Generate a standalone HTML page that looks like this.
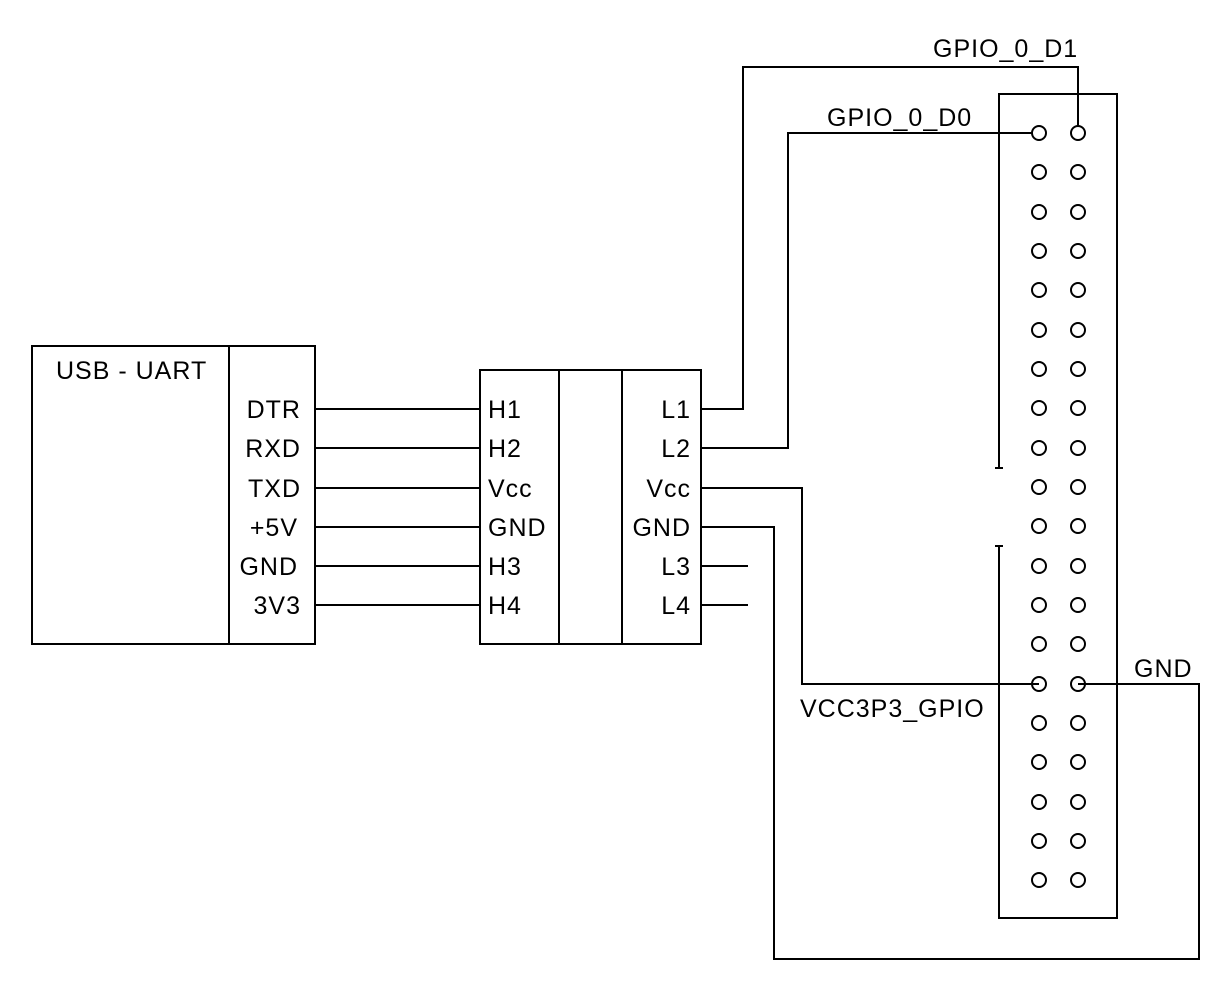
<!DOCTYPE html>
<html><head><meta charset="utf-8"><style>
html,body{margin:0;padding:0;background:#fff}
svg{display:block}
text{font-family:"Liberation Sans",Arial,sans-serif;font-size:25px;letter-spacing:1px;fill:#000}
</style></head><body>
<svg width="1232" height="992" viewBox="0 0 1232 992" xmlns="http://www.w3.org/2000/svg">
<g fill="none" stroke="#000" stroke-width="2">
<rect x="32" y="346" width="283" height="298"/>
<line x1="229" y1="346" x2="229" y2="644"/>
<rect x="480" y="370" width="221" height="274"/>
<line x1="559" y1="370" x2="559" y2="644"/>
<line x1="622" y1="370" x2="622" y2="644"/>
<line x1="315" y1="409" x2="480" y2="409"/>
<line x1="315" y1="448" x2="480" y2="448"/>
<line x1="315" y1="488" x2="480" y2="488"/>
<line x1="315" y1="527" x2="480" y2="527"/>
<line x1="315" y1="566" x2="480" y2="566"/>
<line x1="315" y1="605" x2="480" y2="605"/>
<polyline points="701,409 743,409 743,67 1078,67 1078,126"/>
<polyline points="701,448 788,448 788,133 1032,133"/>
<polyline points="701,488 802,488 802,684 1039,684"/>
<polyline points="701,527 774,527 774,959 1199,959 1199,684 1078,684"/>
<line x1="701" y1="566" x2="748" y2="566"/>
<line x1="701" y1="605" x2="748" y2="605"/>
<polyline points="999,468 999,94 1117,94 1117,918 999,918 999,546"/>
<line x1="995" y1="468" x2="1003" y2="468"/>
<line x1="995" y1="546" x2="1003" y2="546"/>
</g>
<g fill="none" stroke="#000" stroke-width="2">
<circle cx="1039" cy="133" r="7"/><circle cx="1078" cy="133" r="7"/>
<circle cx="1039" cy="172" r="7"/><circle cx="1078" cy="172" r="7"/>
<circle cx="1039" cy="212" r="7"/><circle cx="1078" cy="212" r="7"/>
<circle cx="1039" cy="251" r="7"/><circle cx="1078" cy="251" r="7"/>
<circle cx="1039" cy="290" r="7"/><circle cx="1078" cy="290" r="7"/>
<circle cx="1039" cy="330" r="7"/><circle cx="1078" cy="330" r="7"/>
<circle cx="1039" cy="369" r="7"/><circle cx="1078" cy="369" r="7"/>
<circle cx="1039" cy="408" r="7"/><circle cx="1078" cy="408" r="7"/>
<circle cx="1039" cy="448" r="7"/><circle cx="1078" cy="448" r="7"/>
<circle cx="1039" cy="487" r="7"/><circle cx="1078" cy="487" r="7"/>
<circle cx="1039" cy="526" r="7"/><circle cx="1078" cy="526" r="7"/>
<circle cx="1039" cy="566" r="7"/><circle cx="1078" cy="566" r="7"/>
<circle cx="1039" cy="605" r="7"/><circle cx="1078" cy="605" r="7"/>
<circle cx="1039" cy="644" r="7"/><circle cx="1078" cy="644" r="7"/>
<circle cx="1039" cy="684" r="7"/><circle cx="1078" cy="684" r="7"/>
<circle cx="1039" cy="723" r="7"/><circle cx="1078" cy="723" r="7"/>
<circle cx="1039" cy="762" r="7"/><circle cx="1078" cy="762" r="7"/>
<circle cx="1039" cy="802" r="7"/><circle cx="1078" cy="802" r="7"/>
<circle cx="1039" cy="841" r="7"/><circle cx="1078" cy="841" r="7"/>
<circle cx="1039" cy="880" r="7"/><circle cx="1078" cy="880" r="7"/>
</g>
<text x="56" y="379">USB - UART</text>
<g text-anchor="end">
<text x="301" y="418">DTR</text>
<text x="301" y="457">RXD</text>
<text x="301" y="497">TXD</text>
<text x="298" y="536">+5V</text>
<text x="298" y="575">GND</text>
<text x="301" y="614">3V3</text>
<text x="691" y="418">L1</text>
<text x="691" y="457">L2</text>
<text x="691" y="497">Vcc</text>
<text x="691" y="536">GND</text>
<text x="691" y="575">L3</text>
<text x="691" y="614">L4</text>
</g>
<text x="488" y="418">H1</text>
<text x="488" y="457">H2</text>
<text x="488" y="497">Vcc</text>
<text x="488" y="536">GND</text>
<text x="488" y="575">H3</text>
<text x="488" y="614">H4</text>
<text x="933" y="57">GPIO_0_D1</text>
<text x="827" y="126">GPIO_0_D0</text>
<text x="800" y="717">VCC3P3_GPIO</text>
<text x="1134" y="677">GND</text>
</svg>
</body></html>
